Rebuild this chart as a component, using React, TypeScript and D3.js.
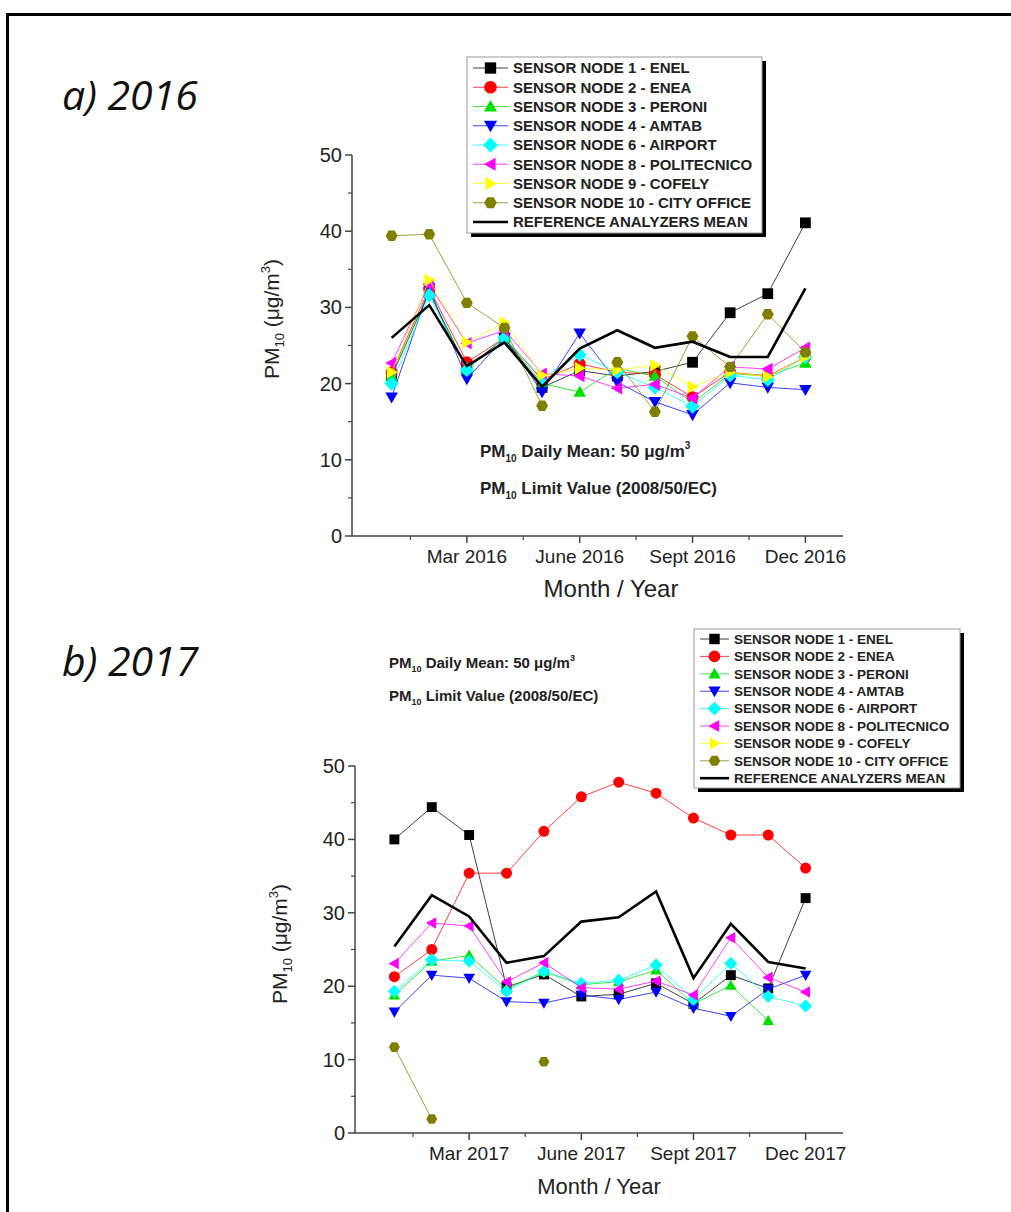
import * as d3 from "d3";

// ---- data ----
const months = [1, 2, 3, 4, 5, 6, 7, 8, 9, 10, 11, 12];
const xTickMonths = [3, 6, 9, 12];
const xMinorMonths = [1.5, 4.5, 7.5, 10.5];
const xLabels2016 = ["Mar 2016", "June 2016", "Sept 2016", "Dec 2016"];
const xLabels2017 = ["Mar 2017", "June 2017", "Sept 2017", "Dec 2017"];
const yTicks = [0, 10, 20, 30, 40, 50];
const yMinor = [5, 15, 25, 35, 45];

const sensorNames = [
  "SENSOR NODE 1 - ENEL",
  "SENSOR NODE 2 - ENEA",
  "SENSOR NODE 3 - PERONI",
  "SENSOR NODE 4 - AMTAB",
  "SENSOR NODE 6 - AIRPORT",
  "SENSOR NODE 8 - POLITECNICO",
  "SENSOR NODE 9 - COFELY",
  "SENSOR NODE 10 - CITY OFFICE",
];
const meanName = "REFERENCE ANALYZERS MEAN";
const sensorColors = ["#000000", "#ff0000", "#00e000", "#0000ff", "#00ffff", "#ff00ff", "#ffff00", "#808000"];
const sensorShapes = ["square", "circle", "up", "down", "diamond", "left", "right", "hexagon"];

type V = number | null;

const enel2016: V[] = [21, 32, 22, 26, 19.5, 21.7, 21, 21.6, 22.8, 29.3, 31.8, 41.1];
const enea2016: V[] = [21.5, 32.5, 22.8, 26, 20.5, 22.6, 21.5, 21.2, 18.2, 21.5, 21, 23.5];
const peroni2016: V[] = [21, 32, 22, 26, 20, 18.9, 22, 21, 17.5, 21.3, 21, 22.7];
const amtab2016: V[] = [18.2, 32.5, 20.6, 26, 18.9, 26.6, 20.2, 17.6, 15.9, 20.1, 19.5, 19.2];
const airport2016: V[] = [20, 31.6, 21.8, 26, 20.7, 23.8, 21.5, 19.5, 17, 21.1, 20.5, 23.5];
const politecnico2016: V[] = [22.7, 33, 25.3, 27, 21.3, 21, 19.4, 19.9, 18.1, 22.2, 21.9, 24.7];
const cofely2016: V[] = [21.5, 33.6, 25.4, 28, 21.1, 22, 21.8, 22.4, 19.6, 21.5, 20.9, 23.5];
const cityOffice2016: V[] = [39.4, 39.6, 30.6, 27.3, 17.1, null, 22.8, 16.3, 26.2, 22.2, 29.1, 24.1];
const mean2016: V[] = [26, 30.3, 22.3, 25.4, 19.6, 24.6, 27, 24.7, 25.5, 23.5, 23.5, 32.5];

const enel2017: V[] = [40, 44.4, 40.6, 19.9, 21.6, 18.6, 18.9, 20.4, 17.6, 21.5, 19.7, 32];
const enea2017: V[] = [21.3, 25, 35.4, 35.4, 41.1, 45.8, 47.8, 46.3, 42.9, 40.6, 40.6, 36.1];
const peroni2017: V[] = [18.8, 23.4, 24.2, 19.6, 22, 20.2, 20.6, 22.2, 17.6, 20.1, 15.3, null];
const amtab2017: V[] = [16.5, 21.5, 21.1, 17.9, 17.7, 18.8, 18.2, 19.2, 17, 15.9, 19.6, 21.5];
const airport2017: V[] = [19.3, 23.6, 23.4, 19.3, 22, 20.4, 20.8, 22.9, 18.2, 23.1, 18.6, 17.3];
const politecnico2017: V[] = [23.1, 28.6, 28.2, 20.6, 23.2, 19.8, 19.6, 20.7, 18.8, 26.6, 21.2, 19.2];
const cofely2017: V[] = [null, null, null, null, null, null, null, null, null, null, null, null];
const cityOffice2017: V[] = [11.7, 1.9, null, null, 9.7, null, null, null, null, null, null, null];
const mean2017: V[] = [25.4, 32.4, 29.5, 23.2, 24.1, 28.8, 29.4, 32.9, 21.1, 28.5, 23.3, 22.4];

const sensors2016 = [enel2016, enea2016, peroni2016, amtab2016, airport2016, politecnico2016, cofely2016, cityOffice2016];
const sensors2017 = [enel2017, enea2017, peroni2017, amtab2017, airport2017, politecnico2017, cofely2017, cityOffice2017];

// marker shapes
function markerPath(shape: string, r: number) {
  const pts = (arr: number[][]) => "M" + arr.map((p) => p.join(",")).join("L") + "Z";
  switch (shape) {
    case "square": {
      const s = r * 0.9;
      return pts([[-s, -s], [s, -s], [s, s], [-s, s]]);
    }
    case "circle":
      return d3.symbol(d3.symbolCircle, Math.PI * r * r)() as string;
    case "up":
      return pts([[0, -r * 1.05], [r * 1.05, r * 0.8], [-r * 1.05, r * 0.8]]);
    case "down":
      return pts([[0, r * 1.05], [r * 1.05, -r * 0.8], [-r * 1.05, -r * 0.8]]);
    case "left":
      return pts([[-r * 1.05, 0], [r * 0.8, -r * 1.05], [r * 0.8, r * 1.05]]);
    case "right":
      return pts([[r * 1.05, 0], [-r * 0.8, -r * 1.05], [-r * 0.8, r * 1.05]]);
    case "diamond":
      return pts([[0, -r * 1.2], [r * 1.2, 0], [0, r * 1.2], [-r * 1.2, 0]]);
    default: {
      const a = d3.range(6).map((i) => [r * Math.cos((i * Math.PI) / 3), r * Math.sin((i * Math.PI) / 3)]);
      return pts(a);
    }
  }
}

const FONT = "'Liberation Sans', Arial, sans-serif";

type PanelProps = {
  left: number; right: number; top: number; bottom: number;
  sensors: V[][]; mean: V[]; xLabels: string[];
  ylabX: number; ylabY: number; mr: number; titleX: number; titleFs: number;
};

function Panel({ left, right, top, bottom, sensors, mean, xLabels, ylabX, ylabY, mr, titleX, titleFs }: PanelProps) {
  const x = d3.scaleLinear([0, 13], [left + 2, right]);
  const y = d3.scaleLinear([0, 50], [bottom, top]);
  const line = d3
    .line<V>()
    .defined((d) => d !== null)
    .x((_, i) => x(months[i]))
    .y((d) => y(d as number));
  return (
    <g>
      {/* axes */}
      <line x1={left} x2={left} y1={top} y2={bottom} stroke="#444" strokeWidth={1.5} />
      <line x1={left} x2={right} y1={bottom} y2={bottom} stroke="#444" strokeWidth={1.5} />
      {yTicks.map((t) => (
        <g key={"y" + t}>
          <line x1={left - 7} x2={left} y1={y(t)} y2={y(t)} stroke="#444" strokeWidth={1.5} />
          <text x={left - 10} y={y(t)} dy="0.35em" textAnchor="end" fontSize={20} fontFamily={FONT} fill="#222">{t}</text>
        </g>
      ))}
      {yMinor.map((t) => (
        <line key={"ym" + t} x1={left - 4} x2={left} y1={y(t)} y2={y(t)} stroke="#444" strokeWidth={1.2} />
      ))}
      {xTickMonths.map((m, i) => (
        <g key={"x" + m}>
          <line x1={x(m)} x2={x(m)} y1={bottom} y2={bottom + 7} stroke="#444" strokeWidth={1.5} />
          <text x={x(m)} y={bottom + 20} dy="0.35em" textAnchor="middle" fontSize={19} fontFamily={FONT} fill="#222">{xLabels[i]}</text>
        </g>
      ))}
      {xMinorMonths.map((m) => (
        <line key={"xm" + m} x1={x(m)} x2={x(m)} y1={bottom} y2={bottom + 4} stroke="#444" strokeWidth={1.2} />
      ))}
      <text x={titleX} y={bottom + 53} dy="0.35em" textAnchor="middle" fontSize={titleFs} fontFamily={FONT} fill="#222">Month / Year</text>
      <text transform={`translate(${ylabX},${ylabY}) rotate(-90)`} textAnchor="middle" fontSize={21} fontFamily={FONT} fill="#222">
        PM<tspan fontSize={13} dy={5}>10</tspan>
        <tspan dy={-5}> (μg/m</tspan>
        <tspan fontSize={13} dy={-9}>3</tspan>
        <tspan dy={9}>)</tspan>
      </text>

      {/* sensor series */}
      {sensors.map((s, k) => (
        <g key={"s" + k}>
          <path d={line(s) || ""} fill="none" stroke={sensorColors[k]} strokeWidth={1} strokeOpacity={0.75} />
          {s.map((v, i) =>
            v === null ? null : (
              <path key={i} d={markerPath(sensorShapes[k], mr)} transform={`translate(${x(months[i])},${y(v)})`} fill={sensorColors[k]} />
            )
          )}
        </g>
      ))}
      <path d={line(mean) || ""} fill="none" stroke="#000" strokeWidth={2.6} strokeLinejoin="miter" />
    </g>
  );
}

function Legend({ bx, by, bw, bh, x0, lineLen, y0, dy, fs, mr }: { bx: number; by: number; bw: number; bh: number; x0: number; lineLen: number; y0: number; dy: number; fs: number; mr: number }) {
  return (
    <g>
      <rect x={bx + 4} y={by + 4} width={bw} height={bh} fill="#000" />
      <rect x={bx} y={by} width={bw} height={bh} fill="#fff" stroke="#999" strokeWidth={1} />
      {sensorNames.map((n, i) => (
        <g key={n}>
          <line x1={x0} x2={x0 + lineLen} y1={y0 + i * dy} y2={y0 + i * dy} stroke={sensorColors[i]} strokeWidth={1} strokeOpacity={0.75} />
          <path d={markerPath(sensorShapes[i], mr)} transform={`translate(${x0 + lineLen / 2},${y0 + i * dy})`} fill={sensorColors[i]} />
          <text x={x0 + lineLen + 5} y={y0 + i * dy} dy="0.36em" fontSize={fs} fontWeight="bold" fontFamily={FONT} fill="#222">{n}</text>
        </g>
      ))}
      <line x1={x0} x2={x0 + lineLen} y1={y0 + 8 * dy} y2={y0 + 8 * dy} stroke="#000" strokeWidth={2.6} />
      <text x={x0 + lineLen + 5} y={y0 + 8 * dy} dy="0.36em" fontSize={fs} fontWeight="bold" fontFamily={FONT} fill="#222">{meanName}</text>
    </g>
  );
}

function Note({ x, y, fs }: { x: number; y: number; fs: number }) {
  const sub = Math.round(fs * 0.6);
  return (
    <g fontFamily={FONT} fontWeight="bold" fill="#222" fontSize={fs}>
      <text x={x} y={y}>
        PM<tspan fontSize={sub} dy={fs * 0.28}>10</tspan>
        <tspan dy={-fs * 0.28}> Daily Mean: 50 μg/m</tspan>
        <tspan fontSize={sub} dy={-fs * 0.45}>3</tspan>
      </text>
      <text x={x} y={y + fs * 2.2}>
        PM<tspan fontSize={sub} dy={fs * 0.28}>10</tspan>
        <tspan dy={-fs * 0.28}> Limit Value (2008/50/EC)</tspan>
      </text>
    </g>
  );
}

export default function App() {
  return (
    <div style={{ position: "absolute", left: 0, top: 0 }}>
      <svg width={1011} height={1212} style={{ display: "block", background: "#fff" }}>
        <rect x={7.5} y={14.5} width={1100} height={1300} fill="none" stroke="#000" strokeWidth={3} />

        <text x={62} y={110} fontSize={41} fontStyle="italic" fontFamily="'Open Sans', sans-serif" fill="#111">a) 2016</text>
        <text x={62} y={676} fontSize={41} fontStyle="italic" fontFamily="'Open Sans', sans-serif" fill="#111">b) 2017</text>

        <Panel left={352} right={843} top={155} bottom={536} sensors={sensors2016} mean={mean2016} xLabels={xLabels2016} ylabX={279} ylabY={319} mr={6} titleX={611} titleFs={24} />
        <Note x={480} y={457} fs={17} />
        <Legend bx={467} by={57} bw={295} bh={176} x0={473} lineLen={35} y0={68} dy={19.25} fs={15} mr={6.3} />

        <Panel left={355} right={843} top={766} bottom={1133} sensors={sensors2017} mean={mean2017} xLabels={xLabels2017} ylabX={287} ylabY={944} mr={5.5} titleX={599} titleFs={22} />
        <Note x={389} y={668} fs={15} />
        <Legend bx={694} by={629} bw={266} bh={159} x0={700} lineLen={29} y0={639} dy={17.4} fs={13.5} mr={5.8} />
      </svg>
    </div>
  );
}
